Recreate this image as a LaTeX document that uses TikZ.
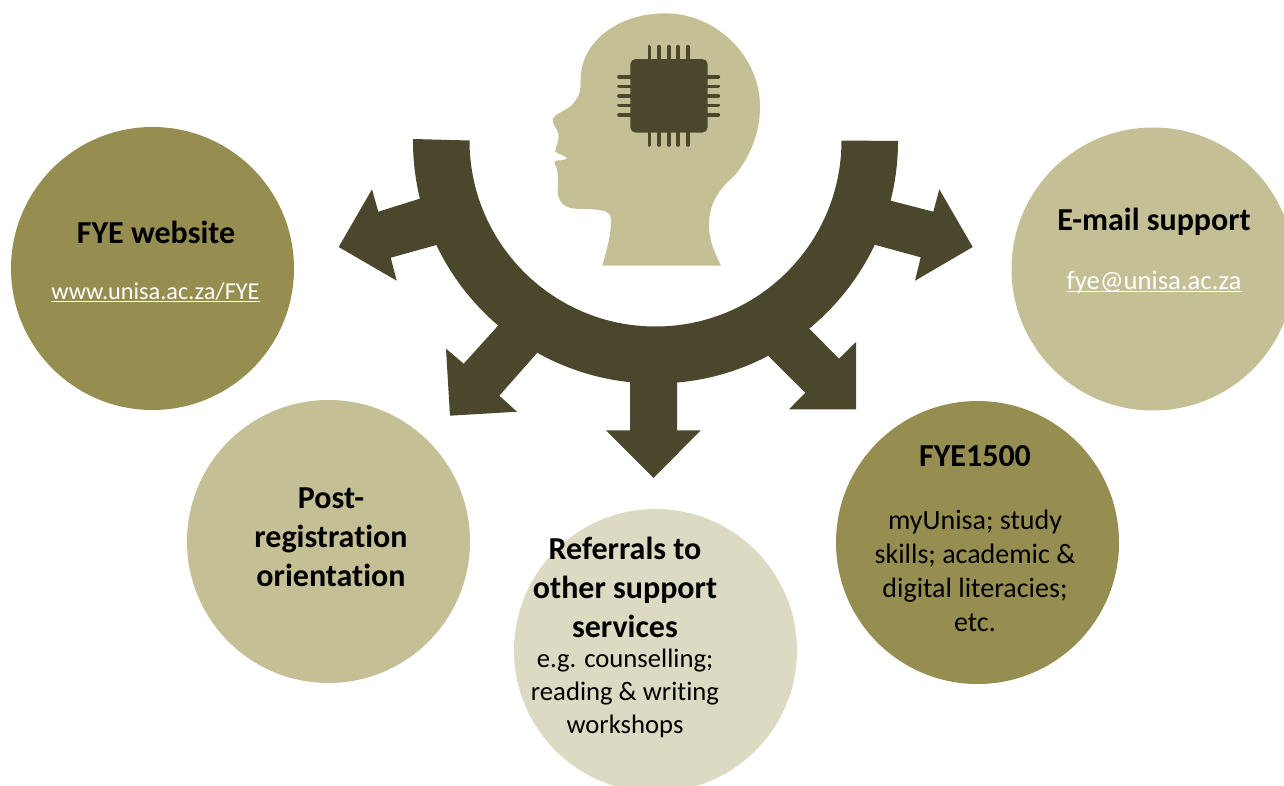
\documentclass[tikz,border=0pt]{standalone}
\usepackage{fontspec}
\setmainfont[Ligatures=NoCommon]{Carlito}
\definecolor{darkol}{HTML}{4B472C}
\definecolor{olive}{HTML}{968D50}
\definecolor{tan}{HTML}{C4BF95}
\definecolor{pale}{HTML}{DCDAC2}
\newcommand\lnkline[1]{\setbox0\hbox{#1}\rlap{\rule[-2.6pt]{\wd0}{1pt}}\box0}
\tikzset{
  disc/.style={circle,minimum size=212.25pt,inner sep=0pt,draw=none},
  head/.style={font=\fontsize{24}{29.25}\selectfont\bfseries,align=center,inner sep=0pt,text=black},
  body/.style={font=\fontsize{21}{25.5}\selectfont,align=center,inner sep=0pt,text=black},
  bodysmall/.style={font=\fontsize{20}{25}\selectfont,align=center,inner sep=0pt,text=black},
  linktext/.style={font=\fontsize{18.2}{22}\selectfont,anchor=base,inner sep=0pt,text=white},
  linkbig/.style={font=\fontsize{20}{24}\selectfont,anchor=base,inner sep=0pt,text=white},
  pin/.style={draw=darkol,line width=2.75pt,line cap=round},
}
\begin{document}
\begin{tikzpicture}[x=0.75pt,y=-0.75pt]
\clip (0,0) rectangle (1284,785);
% discs
\node[disc,fill=olive] (web) at (152.5,268.5) {};
\node[disc,fill=tan] (mail) at (1153,269) {};
\node[disc,fill=tan] (post) at (328.5,541.5) {};
\node[disc,fill=pale] (refer) at (655.5,650.5) {};
\node[disc,fill=olive] (fye) at (977.5,542.5) {};
% head
\begin{scope}[shift={(540,0)},x=0.25pt,y=-0.25pt]
\fill[tan] (187,797) .. controls (200,750) and (215,700) .. (213,655)
 .. controls (212,635) and (190,630) .. (160,628)
 .. controls (130,626) and (100,628) .. (85,622)
 .. controls (60,612) and (52,590) .. (53,570)
 .. controls (55,540) and (55,510) .. (46,495)
 .. controls (40,483) and (48,481) .. (60,481)
 .. controls (70,481) and (80,478) .. (81,473)
 .. controls (70,466) and (55,462) .. (46,455)
 .. controls (46,440) and (60,420) .. (55,400)
 .. controls (50,385) and (35,370) .. (38,357)
 .. controls (45,340) and (85,330) .. (100,310)
 .. controls (122,285) and (122,265) .. (122,240)
 .. controls (120,130) and (230,40) .. (375,40)
 .. controls (530,40) and (660,170) .. (660,320)
 .. controls (660,400) and (630,470) .. (585,525)
 .. controls (560,550) and (505,590) .. (507,680)
 .. controls (508,725) and (525,760) .. (543,797) -- cycle;
\foreach \p in {328,357,386,414,443}{\draw[pin] (\p,140) -- (\p,190); \draw[pin] (\p,390) -- (\p,435);}
\foreach \p in {230,259,288,316,345}{\draw[pin] (237,\p) -- (280,\p); \draw[pin] (490,\p) -- (535,\p);}
\fill[darkol,rounded corners=4pt] (271,177) rectangle (503,398);
\end{scope}
% ring with arrows
\fill[darkol] (413,139) -- (469.5,140.5) arc[start angle=180,end angle=0,radius=186] -- (898,141)
 arc[start angle=0,end angle=180,radius=242.5] -- cycle;
\fill[darkol] (422,198) -- (378.3,211.7) -- (372,189.3) -- (338.7,247) -- (396.7,280.7) -- (390.7,257.7) -- (440,244) -- cycle;
\fill[darkol] (498.7,325) -- (463.7,363.7) -- (446,348.7) -- (450,415.7) -- (517,411.7) -- (499.3,395.7) -- (537.3,352.7) -- cycle;
\fill[darkol] (630,378) -- (630,430.3) -- (606,430.3) -- (653.5,478) -- (700.7,430.3) -- (677,430.3) -- (677,378) -- cycle;
\fill[darkol] (809,328.3) -- (839,358.7) -- (856,342) -- (856,409.3) -- (789,409.3) -- (805.3,392.7) -- (768,355.7) -- cycle;
\fill[darkol] (888,200) -- (933.3,211.7) -- (939.3,189.3) -- (972.7,247) -- (915,280.7) -- (920.7,257.3) -- (872,244) -- cycle;
% text
\node[head] (t1) at (156,232) {FYE website};
\node[linktext] (t2) at (155.5,299) {\lnkline{www.unisa.ac.za/FYE}};
\node[head] (t3) at (1154,221.5) {E-mail support};
\node[linkbig] (t4) at (1154,289) {\lnkline{fye@unisa.ac.za}};
\node[head] (t5) at (331,537) {Post-\\registration\\orientation};
\node[head] (t6) at (625,587) {Referrals to\\other support\\services};
\node[bodysmall] (t7) at (625,693.5) {e.g. counselling;\\reading \& writing\\workshops};
\node[head] (t8) at (975,456) {FYE1500};
\node[body] (t9) at (975,571) {myUnisa; study\\skills; academic \&\\digital literacies;\\etc.};
\end{tikzpicture}
\end{document}
